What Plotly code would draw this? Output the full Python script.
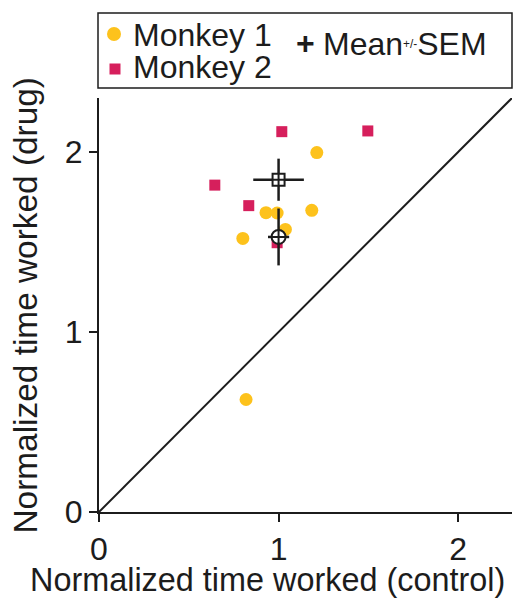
import plotly.graph_objects as go

# ---- data ----
m1_control = [1.213, 0.930, 0.992, 1.185, 1.038, 0.801, 0.819]
m1_drug = [1.997, 1.663, 1.661, 1.676, 1.570, 1.520, 0.625]

m2_control = [1.018, 1.497, 0.645, 0.834, 0.992]
m2_drug = [2.113, 2.117, 1.816, 1.702, 1.496]

m1_mean = [1.00, 1.528]
m1_sem = [0.059, 0.158]
m2_mean = [1.00, 1.846]
m2_sem = [0.141, 0.117]

axis_max = 2.3
tick_vals = [0, 1, 2]
tick_text = ["0", "1", "2"]

series_names = ["Monkey 1", "Monkey 2"]
mean_label = "Mean<span style='font-size:17px'><sup>+/-</sup></span>SEM"
x_title = "Normalized time worked (control)"
y_title = "Normalized time worked (drug)"

GOLD = "#FDC21C"
CRIMSON = "#D61F5C"
INK = "#1c1c1c"
FONT = "Liberation Sans, Arial, Helvetica, sans-serif"
FS = 32

# page body has an 8px default margin: the figure is offset by it
OFF = 8
W, H = 522 - OFF, 598 - OFF
PLOT_L, PLOT_R, PLOT_T, PLOT_B = 99, 512, 98, 512  # in window pixels
ML, MR = PLOT_L - OFF, W - (PLOT_R - OFF)
MT, MB = PLOT_T - OFF, H - (PLOT_B - OFF)
PW, PH = PLOT_R - PLOT_L, PLOT_B - PLOT_T


def px(xpix):
    return (xpix - PLOT_L) / PW


def py(ypix):
    return (PLOT_B - ypix) / PH


fig = go.Figure()

fig.add_trace(go.Scatter(
    x=m1_control, y=m1_drug, mode="markers", name=series_names[0],
    marker=dict(symbol="circle", size=13, color=GOLD, line=dict(width=0)),
    showlegend=False, cliponaxis=False))
fig.add_trace(go.Scatter(
    x=m2_control, y=m2_drug, mode="markers", name=series_names[1],
    marker=dict(symbol="square", size=11, color=CRIMSON, line=dict(width=0)),
    showlegend=False, cliponaxis=False))

fig.add_trace(go.Scatter(
    x=[m2_mean[0]], y=[m2_mean[1]], mode="markers", showlegend=False,
    marker=dict(symbol="square-cross", size=12, color="white",
                line=dict(color=INK, width=2)),
    error_x=dict(type="data", array=[m2_sem[0]], color=INK, thickness=2.5, width=0),
    error_y=dict(type="data", array=[m2_sem[1]], color=INK, thickness=2.5, width=0)))
fig.add_trace(go.Scatter(
    x=[m1_mean[0]], y=[m1_mean[1]], mode="markers", showlegend=False,
    marker=dict(symbol="circle-cross", size=14, color="white",
                line=dict(color=INK, width=2)),
    error_x=dict(type="data", array=[m1_sem[0]], color=INK, thickness=2.5, width=0),
    error_y=dict(type="data", array=[m1_sem[1]], color=INK, thickness=2.5, width=0)))

# unity line
fig.add_shape(type="line", xref="x", yref="y", x0=0, y0=0, x1=axis_max, y1=axis_max,
              line=dict(color=INK, width=2), layer="below")

# legend box
fig.add_shape(type="rect", xref="paper", yref="paper",
              x0=px(98), x1=px(512), y0=py(88), y1=py(13),
              line=dict(color=INK, width=1.5), fillcolor="white")
fig.add_shape(type="circle", xref="paper", yref="paper", xsizemode="pixel", ysizemode="pixel",
              xanchor=px(114), yanchor=py(34), x0=-7, x1=7, y0=-7, y1=7,
              fillcolor=GOLD, line=dict(width=0))
fig.add_shape(type="rect", xref="paper", yref="paper", xsizemode="pixel", ysizemode="pixel",
              xanchor=px(115), yanchor=py(69), x0=-5.5, x1=5.5, y0=-5.5, y1=5.5,
              fillcolor=CRIMSON, line=dict(width=0))

ann = []
ann.append(dict(text=series_names[0], x=px(131), y=py(35), xref="paper", yref="paper",
                xanchor="left", yanchor="middle", showarrow=False,
                font=dict(size=FS, color=INK, family=FONT)))
ann.append(dict(text=series_names[1], x=px(131), y=py(67), xref="paper", yref="paper",
                xanchor="left", yanchor="middle", showarrow=False,
                font=dict(size=FS, color=INK, family=FONT)))
ann.append(dict(text="<b>+</b>", x=px(305), y=py(43), xref="paper", yref="paper",
                xanchor="center", yanchor="middle", showarrow=False,
                font=dict(size=FS, color=INK, family=FONT)))
ann.append(dict(text=mean_label, x=px(321), y=py(44), xref="paper", yref="paper",
                xanchor="left", yanchor="middle", showarrow=False,
                font=dict(size=FS, color=INK, family=FONT)))
ann.append(dict(text=x_title, x=px(267.5), y=py(580), xref="paper", yref="paper",
                xanchor="center", yanchor="middle", showarrow=False,
                font=dict(size=32.4, color=INK, family=FONT)))
ann.append(dict(text=y_title, x=px(25), y=py(305.5), xref="paper", yref="paper",
                xanchor="center", yanchor="middle", showarrow=False, textangle=-90,
                font=dict(size=33.4, color=INK, family=FONT)))

axis_common = dict(range=[0, axis_max], tickvals=tick_vals, ticktext=tick_text,
                   showgrid=False, zeroline=False, showline=True, linecolor=INK,
                   linewidth=2, ticks="outside", ticklen=8, tickwidth=2, tickcolor=INK,
                   automargin=False,
                   tickfont=dict(size=FS, color=INK, family=FONT))

fig.update_layout(
    width=W, height=H, autosize=False,
    margin=dict(l=ML, r=MR, t=MT, b=MB, autoexpand=False),
    plot_bgcolor="white", paper_bgcolor="white",
    xaxis=dict(**axis_common),
    yaxis=dict(**axis_common),
    annotations=ann,
    showlegend=False,
)

fig.write_html("out.html")
